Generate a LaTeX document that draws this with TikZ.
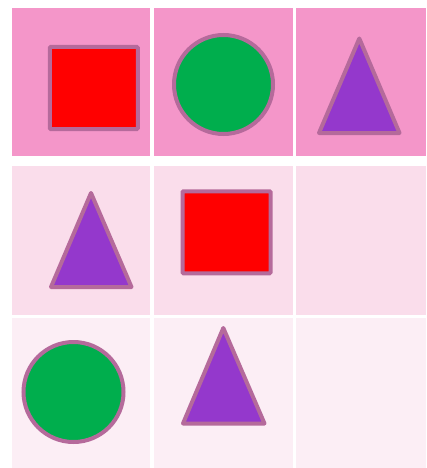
\documentclass[tikz,border=0pt]{standalone}
\usetikzlibrary{shapes.geometric}

\definecolor{rowone}{RGB}{244,150,201}
\definecolor{rowtwo}{RGB}{250,221,235}
\definecolor{rowthree}{RGB}{252,238,245}
\definecolor{edgemauve}{RGB}{181,106,155}
\definecolor{shapered}{RGB}{255,0,0}
\definecolor{shapegreen}{RGB}{0,174,77}
\definecolor{shapepurple}{RGB}{148,56,204}

\begin{document}
\begin{tikzpicture}[
    x=1pt, y=-1pt,
    cell/.style={draw=white, line width=0.6pt, inner sep=0pt, minimum height=150},
    sq/.style={draw=edgemauve, fill=shapered, line width=4pt, rounded corners=1pt, minimum width=88, minimum height=82, inner sep=0pt},
    disc/.style={circle, draw=edgemauve, fill=shapegreen, line width=4pt, inner sep=0pt},
    tri/.style={draw=edgemauve, fill=shapepurple, line width=4pt, line join=round},
]
\useasboundingbox[fill=white] (0,0) rectangle (426,468);

% Row 1
\node[cell, fill=rowone, minimum width=139.7, minimum height=149.7] (c11) at (80.85, 81.85) {};
\node[cell, fill=rowone, minimum width=140.3, minimum height=149.7] (c12) at (223.2, 81.85) {};
\node[cell, fill=rowone, minimum width=130.3, minimum height=149.7] (c13) at (360.85, 81.85) {};

% Row 2
\node[cell, fill=rowtwo, minimum width=139.7] (c21) at (80.85, 240) {};
\node[cell, fill=rowtwo, minimum width=140.3] (c22) at (223.2, 240) {};
\node[cell, fill=rowtwo, minimum width=130.3] (c23) at (360.85, 240) {};

% Row 3
\node[cell, fill=rowthree, minimum width=139.7, minimum height=150.7] (c31) at (80.85, 392.65) {};
\node[cell, fill=rowthree, minimum width=140.3, minimum height=150.7] (c32) at (223.2, 392.65) {};
\node[cell, fill=rowthree, minimum width=130.3, minimum height=150.7] (c33) at (360.85, 392.65) {};

% Shapes
\node[sq] (sqa) at (93.8, 88) {};
\node[disc, minimum size=99] (disca) at (223.5, 84.5) {};
\draw[tri] (359.3, 38.5) -- (399.5, 133) -- (319, 133) -- cycle;

\draw[tri] (91, 193) -- (131.5, 287) -- (51, 287) -- cycle;
\node[sq] (sqb) at (226.5, 232.3) {};

\node[disc, minimum size=100] (discb) at (73.5, 392) {};
\draw[tri] (223.3, 328) -- (264.5, 423.5) -- (183, 423.5) -- cycle;

\end{tikzpicture}
\end{document}
